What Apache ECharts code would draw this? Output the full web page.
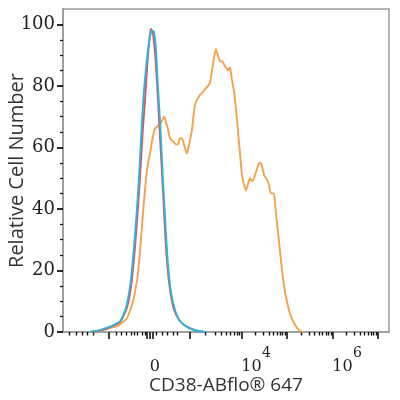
<!DOCTYPE html>
<html>
<head>
<meta charset="utf-8">
<script src="https://cdn.jsdelivr.net/npm/echarts@6/dist/echarts.min.js"></script>
<style>
html, body { margin: 0; padding: 0; background: #fff; }
#chart { width: 400px; height: 400px; }
</style>
</head>
<body>
<div id="chart"></div>
<script>
// x = display channel (0-1000) of the biexponential scale, y = relative cell number
var redX = [86, 113, 138, 160, 175, 187, 199, 209, 218, 227, 236, 245, 252, 258, 264, 270, 276, 282, 288, 294, 301, 307, 313, 319, 328, 340, 359, 383, 408, 433];
var redY = [0, 0.5, 1.3, 2.3, 3.3, 5.5, 9, 15, 24, 36, 50, 66, 76, 86, 94, 98.5, 97, 91, 82, 70, 57, 45, 33, 23, 14, 7.5, 3.5, 1.5, 0.5, 0];

var blueX = [83, 113, 138, 160, 175, 187, 196, 206, 215, 224, 233, 242, 248, 255, 261, 267, 273, 279, 285, 291, 298, 304, 310, 316, 322, 331, 344, 359, 383, 408, 436];
var blueY = [0, 0.6, 1.5, 2.5, 3.5, 6, 9, 15, 24, 36, 50, 68, 78, 86, 92, 96, 98, 97.5, 92, 80, 68, 55, 43, 32, 22, 13, 7, 3.5, 1.5, 0.5, 0];

var orangeX = [83, 113, 135, 150, 166, 181, 196, 206, 215, 224, 230, 236, 242, 248, 255, 261, 267, 273, 282, 291, 301, 310, 316, 322, 328, 337, 347, 353, 359, 365, 371, 380, 387, 396, 402, 408, 414, 420, 429, 436, 445, 451, 457, 463, 469, 475, 482, 488, 494, 500, 506, 512, 518, 525, 531, 537, 543, 549, 555, 561, 567, 574, 580, 586, 592, 598, 604, 610, 617, 623, 629, 635, 641, 647, 653, 660, 666, 672, 681, 690, 696, 706, 718, 727, 736];
var orangeY = [0, 0.4, 1, 1.5, 1.8, 3, 4.5, 7, 10, 15, 19, 26, 34, 42, 50, 55, 58, 62, 66, 67, 68, 70, 68, 66, 63, 62, 61, 61, 63, 63, 61, 58, 61, 66, 72, 75, 76, 77, 78, 79, 80, 81, 85, 89, 92, 90, 88, 88, 87, 86, 85, 86, 82, 78, 72, 65, 58, 51, 48, 46, 48, 50, 49, 50, 52, 54, 55, 54, 51, 50, 49, 46, 45, 45, 39, 32, 26, 20, 13, 8.5, 6, 3.5, 1.3, 0.4, 0];

// axis ticks and labels (channel positions)
var decadePos = [390, 549, 687, 828, 966];          // 10^3 .. 10^7
var xMajorTicks = [141, 258, 267, 276].concat(decadePos);
var xLowMinorTicks = [18, 40, 58, 74, 92, 163, 178, 193, 209, 218, 227, 242, 252, 285, 304, 319, 337, 350];
var xLabelPos = [282, 592, 871];
var xLabelText = ['{e| }\n{z|0}', '{s|4}\n{b|10}', '{s|6}\n{b|10}'];
var yMajorTicks = [0, 20, 40, 60, 80, 100];
var yMinorTicks = [5, 10, 15, 25, 30, 35, 45, 50, 55, 65, 70, 75, 85, 90, 95];

var xMinorTicks = xLowMinorTicks.slice();
for (var d = 0; d < decadePos.length - 1; d++) {
	for (var m = 2; m <= 9; m++) {
		xMinorTicks.push(decadePos[d] + Math.log10(m) * (decadePos[d + 1] - decadePos[d]));
	}
}

function pairs(xs, ys) {
	var out = [];
	for (var i = 0; i < xs.length; i++) out.push([xs[i], ys[i]]);
	return out;
}

var chart = echarts.init(document.getElementById('chart'));
var lineColor = '#9a9a9a';
var serif = 'DejaVu Serif';
var option = {
	animation: false,
	grid: {
		left: 63, right: 11, top: 9, bottom: 68,
		outerBoundsMode: 'none', containLabel: false,
		show: true, borderColor: lineColor, borderWidth: 1.5
	},
	xAxis: [{
		type: 'value', min: 0, max: 1000,
		name: 'CD38-ABflo® 647', nameLocation: 'middle', nameGap: 44, nameMoveOverlap: false,
		nameTextStyle: { fontFamily: 'Open Sans', fontSize: 19, color: '#333' },
		axisLine: { lineStyle: { color: lineColor, width: 1.5 } },
		axisTick: { customValues: xMajorTicks, length: 7, lineStyle: { color: '#111', width: 1.6 } },
		axisLabel: {
			customValues: xLabelPos, margin: 15,
			formatter: function (v) { return xLabelText[xLabelPos.indexOf(v)] || ''; },
			rich: {
				b: { fontFamily: serif, fontSize: 16, color: '#222', lineHeight: 16, padding: [0, 9, 0, 0] },
				z: { fontFamily: serif, fontSize: 16, color: '#222', lineHeight: 16 },
				s: { fontFamily: serif, fontSize: 14, color: '#222', lineHeight: 12, padding: [0, 0, 0, 21] },
				e: { fontSize: 14, lineHeight: 12 }
			}
		},
		splitLine: { show: false }
	}, {
		type: 'value', min: 0, max: 1000, position: 'bottom',
		axisLine: { show: false },
		axisTick: { customValues: xMinorTicks, length: 3.5, lineStyle: { color: '#111', width: 1.4 } },
		axisLabel: { show: false },
		splitLine: { show: false }
	}],
	yAxis: [{
		type: 'value', min: 0, max: 105,
		name: 'Relative Cell Number', nameLocation: 'middle', nameGap: 36, nameMoveOverlap: false,
		nameTextStyle: { fontFamily: 'Open Sans', fontSize: 20, color: '#333' },
		axisLine: { show: true, lineStyle: { color: lineColor, width: 1.5 } },
		axisTick: { show: true, customValues: yMajorTicks, length: 6, lineStyle: { color: '#111', width: 1.8 } },
		axisLabel: { customValues: yMajorTicks, margin: 8, fontFamily: serif, fontSize: 18, color: '#222' },
		splitLine: { show: false }
	}, {
		type: 'value', min: 0, max: 105, position: 'left',
		axisLine: { show: false },
		axisTick: { show: true, customValues: yMinorTicks, length: 3, lineStyle: { color: '#111', width: 1.3 } },
		axisLabel: { show: false },
		splitLine: { show: false }
	}],
	series: [{
		type: 'line', data: pairs(orangeX, orangeY), showSymbol: false, smooth: 0.2,
		lineStyle: { color: '#f4a24c', width: 1.9 }
	}, {
		type: 'line', data: pairs(redX, redY), showSymbol: false, smooth: 0.3,
		lineStyle: { color: '#e0505e', width: 1.9 }
	}, {
		type: 'line', data: pairs(blueX, blueY), showSymbol: false, smooth: 0.3,
		lineStyle: { color: '#2bb5dd', width: 1.9 }
	}]
};
chart.setOption(option);
</script>
</body>
</html>
